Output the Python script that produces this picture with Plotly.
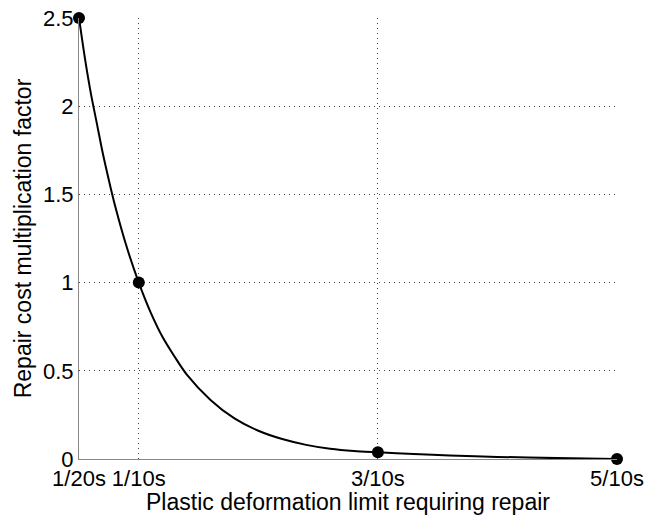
import plotly.graph_objects as go

# Design points (deformation limit as a fraction of the period, cost factor)
point_x = [0.05, 0.1, 0.3, 0.5]
point_y = [2.5, 1.0, 0.038, 0.0]

# Smooth cost curve through the design points
curve_x = [0.05, 0.055, 0.06, 0.065, 0.07, 0.075, 0.08, 0.09, 0.1, 0.11,
           0.12, 0.13, 0.14, 0.16, 0.18, 0.2, 0.22, 0.24, 0.26, 0.28,
           0.3, 0.33, 0.36, 0.4, 0.45, 0.5]
curve_y = [2.5, 2.27, 2.07, 1.9, 1.73, 1.58, 1.44, 1.2, 1.0, 0.83,
           0.69, 0.58, 0.48, 0.335, 0.23, 0.16, 0.113, 0.08, 0.058, 0.045,
           0.038, 0.028, 0.02, 0.012, 0.005, 0.0]

x_tick_vals = [0.05, 0.1, 0.3, 0.5]
x_tick_text = ["1/20s", "1/10s", "3/10s", "5/10s"]
y_tick_vals = [0, 0.5, 1, 1.5, 2, 2.5]
y_tick_text = ["0", "0.5", "1", "1.5", "2", "2.5"]

font_family = "Liberation Sans, Arial, Helvetica, sans-serif"

fig = go.Figure()
fig.add_trace(go.Scatter(
    x=curve_x, y=curve_y, mode="lines",
    line=dict(color="black", width=2, shape="spline", smoothing=0.8),
    hoverinfo="skip", cliponaxis=False, showlegend=False,
))
fig.add_trace(go.Scatter(
    x=point_x, y=point_y, mode="markers",
    marker=dict(color="black", size=12),
    cliponaxis=False, showlegend=False,
))

axis_common = dict(
    showgrid=True, gridcolor="#444444", griddash="1px,4px", gridwidth=1,
    showline=True, linecolor="#888888", linewidth=1,
    zeroline=False, ticks="", automargin=False,
    tickfont=dict(family=font_family, size=22, color="black"),
)

fig.update_layout(
    width=646, height=515,
    margin=dict(l=79, r=29, t=18, b=56),
    plot_bgcolor="white", paper_bgcolor="white",
    font=dict(family=font_family, color="black"),
    xaxis=dict(
        range=[0.05, 0.5], tickvals=x_tick_vals, ticktext=x_tick_text,
        title=dict(text="Plastic deformation limit requiring repair",
                   font=dict(size=23), standoff=0),
        **axis_common,
    ),
    yaxis=dict(
        range=[0, 2.5], tickvals=y_tick_vals, ticktext=y_tick_text,
        title=dict(text="Repair cost multiplication factor",
                   font=dict(size=23), standoff=4),
        **axis_common,
    ),
)

fig.write_html("out.html")
